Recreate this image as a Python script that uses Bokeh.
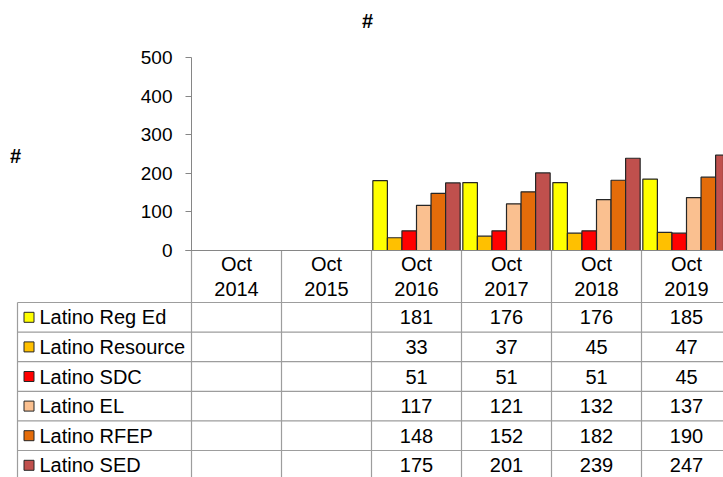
from bokeh.plotting import figure
from bokeh.models import Range1d, FixedTicker, LinearAxis, ColumnDataSource
from bokeh.core.properties import value
from bokeh.embed import file_html
from bokeh.resources import INLINE

# ---- data ----
categories = ["Oct\n2014", "Oct\n2015", "Oct\n2016", "Oct\n2017", "Oct\n2018", "Oct\n2019"]
series_names = ["Latino Reg Ed", "Latino Resource", "Latino SDC", "Latino EL", "Latino RFEP", "Latino SED"]
reg_ed = [None, None, 181, 176, 176, 185]
resource = [None, None, 33, 37, 45, 47]
sdc = [None, None, 51, 51, 51, 45]
el = [None, None, 117, 121, 132, 137]
rfep = [None, None, 148, 152, 182, 190]
sed = [None, None, 175, 201, 239, 247]
y_ticks = [0, 100, 200, 300, 400, 500]

series_values = [reg_ed, resource, sdc, el, rfep, sed]
colors = ["#FFFF00", "#FFC000", "#FF0000", "#FAC090", "#E46C0A", "#C0504D"]

FONT = "Liberation Sans"
FS_TABLE = "20px"
FS_TICK = "19px"
GRID = "#9d9d9d"
AXIS = "#868686"

# ---- layout geometry (page pixels) ----
W, H = 723, 477
ORIG = 0
AX_X = 191          # page x of the value axis / first category boundary
ZERO_Y = 250        # page y of value 0
TOP_Y = 57          # page y of value 500
CAT_PX = 90.0
ROW_PX = 29.6
HDR_PX = 52.0

px_per_val = (ZERO_Y - TOP_Y) / 500.0
x_start = -0.5 - (AX_X - ORIG) / CAT_PX
x_end = -0.5 + (ORIG + W - AX_X) / CAT_PX
y_top = (ZERO_Y - ORIG) / px_per_val
y_bot = -(ORIG + H - ZERO_Y) / px_per_val

p = figure(width=W, height=H, output_backend="svg", toolbar_location=None,
           x_range=Range1d(x_start, x_end), y_range=Range1d(y_bot, y_top),
           x_axis_location=None, y_axis_location=None,
           min_border_left=0, min_border_right=0, min_border_top=0, min_border_bottom=0,
           title=None)
p.outline_line_color = None
p.grid.visible = False
p.background_fill_color = "white"
p.border_fill_color = "white"

# table coordinates: rows of 1 unit, 0 at the category axis, downwards negative
t_top = (ZERO_Y - ORIG) / ROW_PX
t_bot = -(ORIG + H - ZERO_Y) / ROW_PX
p.extra_y_ranges = {"table": Range1d(t_bot, t_top)}
HDR = HDR_PX / ROW_PX

# value axis fixed at the first category boundary
ya = LinearAxis(fixed_location=-0.5, bounds=(0, 500), ticker=FixedTicker(ticks=y_ticks))
ya.axis_line_color = AXIS
ya.major_tick_line_color = AXIS
ya.major_tick_out = 6
ya.major_tick_in = 0
ya.minor_tick_line_color = None
ya.major_label_standoff = 13
ya.major_label_text_font = FONT
ya.major_label_text_font_size = FS_TICK
ya.major_label_text_color = "black"
p.add_layout(ya, "left")

# bars
BAR_W = 0.1617
n_series = len(series_values)
for j, (vals, col) in enumerate(zip(series_values, colors)):
    xs, tops = [], []
    for i, v in enumerate(vals):
        if v is not None:
            xs.append(i + (j - (n_series - 1) / 2) * BAR_W)
            tops.append(v)
    src = ColumnDataSource(dict(x=xs, top=tops))
    p.vbar(x="x", top="top", bottom=0, width=BAR_W, source=src,
           fill_color=col, line_color="#262626", line_width=1.2)

# title and value-axis title
p.text(x=[-0.5 + (367 - AX_X) / CAT_PX], y=[(ZERO_Y - 20) / px_per_val], text=["#"],
       text_font=value(FONT), text_font_size="20px", text_font_style="bold",
       text_align="center", text_baseline="middle", text_color="black")
p.text(x=[-0.5 - (AX_X - 15) / CAT_PX], y=[(ZERO_Y - 155) / px_per_val], text=["#"],
       text_font=value(FONT), text_font_size="20px", text_font_style="bold",
       text_align="center", text_baseline="middle", text_color="black")

# ---- data table ----
n_cat = len(categories)
legend_left = -0.5 - (AX_X - 17) / CAT_PX
far_r = x_end + 1
far_b = t_bot - 1
h_y = [-HDR - r for r in range(len(series_names) + 1)]
p.segment(x0=[legend_left] * len(h_y), y0=h_y, x1=[far_r] * len(h_y), y1=h_y,
          line_color=GRID, line_width=1.2, y_range_name="table")
v_x = [-0.5 + k for k in range(n_cat + 1)]
p.segment(x0=v_x, y0=[0] * len(v_x), x1=v_x, y1=[far_b] * len(v_x),
          line_color=GRID, line_width=1.2, y_range_name="table")
p.segment(x0=[legend_left], y0=[-HDR], x1=[legend_left], y1=[far_b],
          line_color=GRID, line_width=1.2, y_range_name="table")
# category axis line
p.segment(x0=[-0.5 - 6 / CAT_PX], y0=[0], x1=[far_r], y1=[0], line_color=AXIS,
          line_width=1.2, y_range_name="table")

# header texts
p.text(x=list(range(n_cat)), y=[-HDR / 2] * n_cat, text=categories,
       text_font=value(FONT), text_font_size=FS_TABLE, text_align="center",
       text_baseline="middle", text_line_height=1.15, text_color="black",
       y_range_name="table")

# legend keys and labels
row_c = [-HDR - r - 0.5 for r in range(len(series_names))]
key_x = -0.5 - (AX_X - 28.5) / CAT_PX
lab_x = -0.5 - (AX_X - 39) / CAT_PX
p.scatter(x=[key_x] * len(row_c), y=row_c, marker="square", size=10,
          fill_color=colors, line_color="#262626", line_width=1, y_range_name="table")
p.text(x=[lab_x] * len(row_c), y=row_c, text=series_names, text_font=value(FONT),
       text_font_size=FS_TABLE, text_align="left", text_baseline="middle",
       text_color="black", y_range_name="table")

# values
tx, ty, tt = [], [], []
for r, vals in enumerate(series_values):
    for i, v in enumerate(vals):
        if v is not None:
            tx.append(i)
            ty.append(row_c[r])
            tt.append(str(v))
p.text(x=tx, y=ty, text=tt, text_font=value(FONT), text_font_size=FS_TABLE,
       text_align="center", text_baseline="middle", text_color="black",
       y_range_name="table")

open("out.html", "w").write(file_html(p, INLINE))
